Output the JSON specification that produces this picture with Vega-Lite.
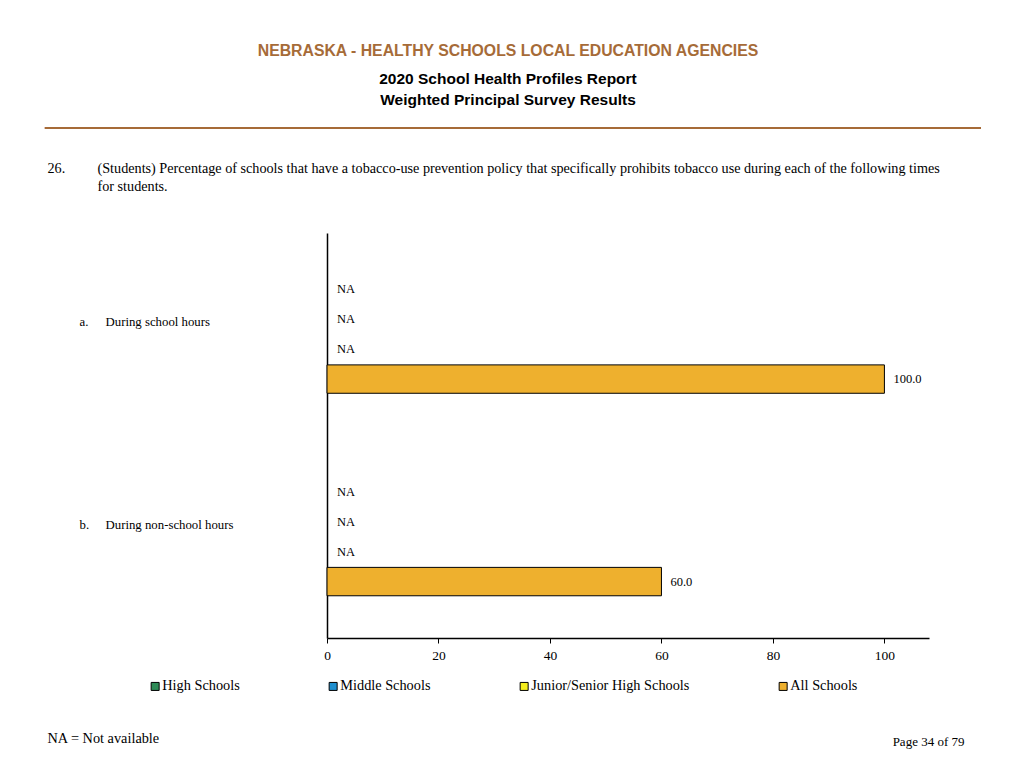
{
  "$schema": "https://vega.github.io/schema/vega-lite/v6.json",
  "width": 602,
  "height": 405,
  "autosize": {"type": "none"},
  "padding": {"left": 327, "top": 233, "right": 95, "bottom": 130},
  "background": "white",
  "config": {"view": {"stroke": null}},
  "title": {
    "text": "NEBRASKA - HEALTHY SCHOOLS LOCAL EDUCATION AGENCIES",
    "subtitle": ["2020 School Health Profiles Report", "Weighted Principal Survey Results"],
    "anchor": "middle",
    "frame": "group",
    "dx": -120,
    "offset": 18,
    "font": "Liberation Sans",
    "fontSize": 15.8,
    "fontWeight": "bold",
    "color": "#A66B38",
    "subtitleFont": "Liberation Sans",
    "subtitleFontSize": 15.5,
    "subtitleFontWeight": "bold",
    "subtitleColor": "#000000",
    "subtitleLineHeight": 21,
    "subtitlePadding": 12
  },
  "data": {
    "values": [
      {"item": "During school hours", "type": "High Schools", "value": null, "label": "NA"},
      {"item": "During school hours", "type": "Middle Schools", "value": null, "label": "NA"},
      {"item": "During school hours", "type": "Junior/Senior High Schools", "value": null, "label": "NA"},
      {"item": "During school hours", "type": "All Schools", "value": 100.0, "label": "100.0"},
      {"item": "During non-school hours", "type": "High Schools", "value": null, "label": "NA"},
      {"item": "During non-school hours", "type": "Middle Schools", "value": null, "label": "NA"},
      {"item": "During non-school hours", "type": "Junior/Senior High Schools", "value": null, "label": "NA"},
      {"item": "During non-school hours", "type": "All Schools", "value": 60.0, "label": "60.0"}
    ]
  },
  "layer": [
    {
      "mark": {"type": "bar", "stroke": "black", "strokeWidth": 1, "fillOpacity": 1},
      "encoding": {
        "x": {
          "field": "value", "type": "quantitative",
          "scale": {"domain": [0, 108], "nice": false, "zero": false},
          "axis": {
            "values": [0, 20, 40, 60, 80, 100], "grid": false, "labelFlush": false,
            "domainColor": "black", "domainWidth": 1.5,
            "tickColor": "black", "tickSize": 5, "tickWidth": 1,
            "labelFont": "Liberation Serif", "labelFontSize": 13.5, "labelColor": "black", "labelPadding": 5,
            "title": "NA = Not available",
            "titleFont": "Liberation Serif", "titleFontSize": 14.3, "titleFontWeight": "normal", "titleColor": "black",
            "titleAngle": 0, "titleAlign": "left", "titleBaseline": "alphabetic",
            "titleX": -280, "titleY": 104
          }
        },
        "y": {
          "field": "item", "type": "nominal",
          "scale": {"domain": ["During school hours", "During non-school hours"], "paddingInner": 0.417, "paddingOuter": 0.2085},
          "axis": {
            "orient": "left",
            "domain": true, "domainColor": "black", "domainWidth": 1.5,
            "ticks": false, "tickSize": 0, "grid": false,
            "labelAlign": "left", "labelPadding": 222, "labelOffset": -12,
            "labelFont": "Liberation Serif", "labelFontSize": 12.8, "labelColor": "black", "labelLimit": 300,
            "title": ["(Students) Percentage of schools that have a tobacco-use prevention policy that specifically prohibits tobacco use during each of the following times", "for students."],
            "titleFont": "Liberation Serif", "titleFontSize": 14.2, "titleFontWeight": "normal", "titleColor": "black",
            "titleAngle": 0, "titleAlign": "left", "titleBaseline": "alphabetic", "titleLineHeight": 18,
            "titleX": -230, "titleY": -61
          }
        },
        "yOffset": {
          "field": "type", "type": "nominal",
          "scale": {"domain": ["High Schools", "Middle Schools", "Junior/Senior High Schools", "All Schools"], "paddingInner": 0.05, "paddingOuter": 0}
        },
        "color": {
          "field": "type", "type": "nominal",
          "scale": {
            "domain": ["High Schools", "Middle Schools", "Junior/Senior High Schools", "All Schools"],
            "range": ["#2E8B57", "#1E8FD0", "#F5EE1C", "#EEB02E"]
          },
          "legend": {
            "orient": "none", "legendX": -179, "legendY": 446,
            "direction": "horizontal", "columns": 4, "columnPadding": 86,
            "symbolType": "square", "symbolSize": 64, "symbolStrokeColor": "black", "symbolStrokeWidth": 1,
            "symbolOffset": 0, "symbolFillOpacity": 1,
            "labelFont": "Liberation Serif", "labelFontSize": 14.3, "labelColor": "black", "labelOffset": 0,
            "title": null
          }
        }
      }
    },
    {
      "transform": [{"filter": "datum.value != null"}],
      "mark": {"type": "text", "align": "left", "baseline": "middle", "dx": 9, "font": "Liberation Serif", "fontSize": 12.5, "color": "black"},
      "encoding": {
        "x": {"field": "value", "type": "quantitative", "axis": null},
        "y": {"field": "item", "type": "nominal", "axis": null},
        "yOffset": {"field": "type", "type": "nominal"},
        "text": {"field": "label"}
      }
    },
    {
      "transform": [{"filter": "datum.value == null"}],
      "mark": {"type": "text", "align": "left", "baseline": "middle", "dx": 10, "font": "Liberation Serif", "fontSize": 12.5, "color": "black"},
      "encoding": {
        "x": {
          "datum": 0, "type": "quantitative",
          "axis": {
            "orient": "top", "domain": false, "ticks": false, "labels": false, "grid": false,
            "title": "Page 34 of 79",
            "titleFont": "Liberation Serif", "titleFontSize": 13, "titleFontWeight": "normal", "titleColor": "black",
            "titleAngle": 0, "titleAlign": "right", "titleBaseline": "alphabetic",
            "titleX": 637, "titleY": 512
          }
        },
        "y": {
          "field": "item", "type": "nominal",
          "axis": {
            "orient": "left", "domain": false, "ticks": false, "tickSize": 0, "grid": false,
            "labelExpr": "datum.value == 'During school hours' ? 'a.' : 'b.'",
            "labelAlign": "left", "labelPadding": 248, "labelOffset": -12,
            "labelFont": "Liberation Serif", "labelFontSize": 12.8, "labelColor": "black",
            "title": "26.",
            "titleFont": "Liberation Serif", "titleFontSize": 14.2, "titleFontWeight": "normal", "titleColor": "black",
            "titleAngle": 0, "titleAlign": "left", "titleBaseline": "alphabetic",
            "titleX": -280, "titleY": -61
          }
        },
        "yOffset": {"field": "type", "type": "nominal"},
        "text": {"field": "label"}
      }
    },
    {
      "mark": {"type": "rule", "color": "#A66B38", "strokeWidth": 2},
      "encoding": {
        "x": {"datum": -50.6, "type": "quantitative", "axis": null},
        "x2": {"datum": 117.3},
        "y": {"value": -105}
      }
    }
  ],
  "resolve": {"axis": {"x": "independent", "y": "independent"}}
}
